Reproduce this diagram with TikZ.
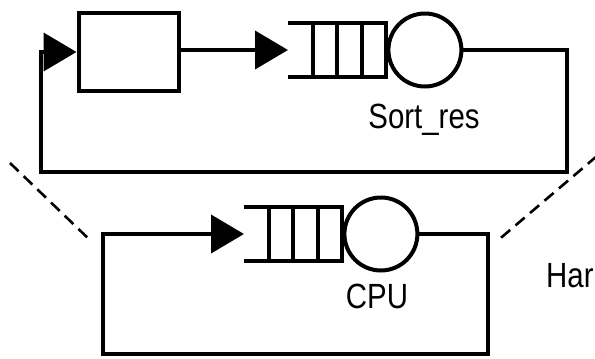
\documentclass[tikz,border=0pt]{standalone}
\usepackage{fontspec}
\setmainfont{Liberation Sans}[FakeStretch=0.84]
\usepackage{tikz}
\usetikzlibrary{arrows.meta,positioning,calc}
\tikzset{
  flowline/.style={line width=4pt, draw=black},
  flowarrow/.style={-{Triangle[length=33pt,width=38pt]}, line width=4pt, draw=black},
  boxnode/.style={draw, line width=4pt, minimum width=100pt, minimum height=78pt, inner sep=0pt},
  queuenode/.style={minimum width=98pt, minimum height=54pt, inner sep=0pt},
  servernode/.style={circle, draw, line width=4pt, minimum size=73pt, inner sep=0pt},
  labeltext/.style={font=\fontsize{35}{38}\selectfont, inner sep=0pt},
  zoomline/.style={line width=2.6pt, dash pattern=on 12pt off 7pt},
}

\begin{document}
\begin{tikzpicture}[x=1pt,y=-1pt]
\path[use as bounding box] (0,0) rectangle (595,359);

% upper network
\node[boxnode] (delay) at (128.5,52) {};
\node[queuenode,anchor=west] (q1) at (288,50) {};
\node[servernode,anchor=west] (sortres) at (q1.east) {};
\node[labeltext,anchor=base] (sortlbl) at (424,128) {Sort\_res};
\draw[flowline] (q1.north west) -- (q1.north east) -- (q1.south east) -- (q1.south west);
\foreach \i in {1,2,3}
  \draw[flowline] ($(q1.north west)!\i/4!(q1.north east)$) -- ($(q1.south west)!\i/4!(q1.south east)$);
\draw[flowarrow] (delay.east |- q1.west) -- (q1.west);
\coordinate (tr) at (567,172);
\coordinate (tl) at (41,172);
\draw[flowarrow] (sortres.east) -| (tr) -- (tl) |- (delay.west);

% lower network
\node[queuenode,anchor=west] (q2) at (244,234) {};
\node[servernode,anchor=west] (cpu) at (q2.east) {};
\node[labeltext,anchor=base] (cpulbl) at (377,308) {CPU};
\draw[flowline] (q2.north west) -- (q2.north east) -- (q2.south east) -- (q2.south west);
\foreach \i in {1,2,3}
  \draw[flowline] ($(q2.north west)!\i/4!(q2.north east)$) -- ($(q2.south west)!\i/4!(q2.south east)$);
\coordinate (br) at (488,354);
\coordinate (bl) at (103,354);
\draw[flowarrow] (cpu.east) -| (br) -- (bl) |- (q2.west);

% zoom lines
\coordinate (zl1) at (10,163);
\coordinate (zl2) at (92,242);
\coordinate (zr1) at (597,156);
\coordinate (zr2) at (496,242);
\draw[zoomline] (zl1) -- (zl2);
\draw[zoomline] (zr1) -- (zr2);

\node[labeltext,anchor=base west] (hw) at (546,287) {Har};
\end{tikzpicture}
\end{document}
